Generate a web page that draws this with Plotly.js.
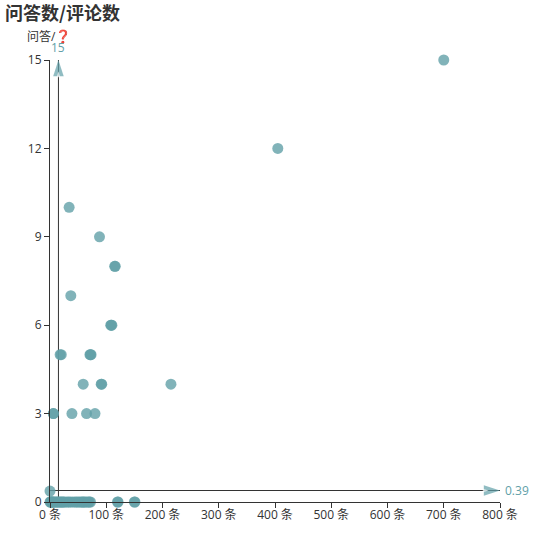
<!DOCTYPE html>
<html><head><meta charset="utf-8"><script src="https://cdn.plot.ly/plotly-3.0.1.min.js"></script>
<style>html,body{margin:0;padding:0;background:#fff}</style></head><body><div id="c" style="width:538px;height:538px"></div>
<script>
const answerCounts = [15,12,10,9,8,8,7,6,6,6,5,5,5,5,5,4,4,4,4,3,3,3,3,3,0.37,
 0,0,0,0,0,0,0,0,0,0,0,0,0,0,0,0,0,0,0,0,0,0,0,0,0,0,0,0,0,0,0,0,0,0,0,0,0,0];
const commentCounts = [700,405,34,88,115,116,37,108,109,110,18,20,71,72,73,59,91,92,215,6,39,65,80,6,0,
 0,1,2,3,4,5,6,8,10,12,14,16,18,20,22,24,26,30,33,36,40,44,47,50,53,56,58,60,62,65,68,70,72,120,121,150,151];
const meanComments = 15;
const meanAnswers = 0.39;
const xTicks = [0,100,200,300,400,500,600,700,800];
const yTicks = [0,3,6,9,12,15];
const teal = '#61a0a8', ink = '#333';
const font = 'Open Sans, Noto Sans CJK SC, sans-serif';
const arrowMarker = (angle) => ({symbol:['circle','arrow'],angle:[0,angle],size:[0,17],color:teal,line:{width:0}});
const notchMarker = (angle) => ({symbol:['circle','arrow'],angle:[0,angle],size:[0,6],standoff:[0,11.5],color:'#fff',line:{width:0}});
Plotly.newPlot('c',[
 {type:'scatter',mode:'lines+markers',x:[meanComments,meanComments],y:[0,15],cliponaxis:false,hoverinfo:'skip',
  line:{color:ink,width:1},marker:arrowMarker(0)},
 {type:'scatter',mode:'lines+markers',x:[0,800],y:[meanAnswers,meanAnswers],cliponaxis:false,hoverinfo:'skip',
  line:{color:ink,width:1},marker:arrowMarker(90)},
 {type:'scatter',mode:'markers',x:[meanComments,meanComments],y:[0,15],cliponaxis:false,hoverinfo:'skip',marker:notchMarker(0)},
 {type:'scatter',mode:'markers',x:[0,800],y:[meanAnswers,meanAnswers],cliponaxis:false,hoverinfo:'skip',marker:notchMarker(90)},
 {type:'scatter',mode:'markers',x:commentCounts,y:answerCounts,cliponaxis:false,
  marker:{size:11,color:teal,opacity:0.8,line:{width:0}},hoverinfo:'x+y'}
],{
 width:538,height:538,showlegend:false,paper_bgcolor:'#fff',plot_bgcolor:'#fff',
 margin:{l:50,r:38,t:60,b:36},
 title:{text:'<b>问答数/评论数</b>',x:5/538,xanchor:'left',y:1-14/538,yanchor:'middle',font:{size:18,color:ink,family:'Noto Sans CJK SC, sans-serif'}},
 xaxis:{range:[0,800],tickvals:xTicks,ticktext:xTicks.map(v=>v+' 条'),ticks:'outside',ticklen:5,tickcolor:ink,ticklabelstandoff:-3,
   showgrid:false,zeroline:false,showline:true,linecolor:ink,linewidth:1,tickfont:{size:12,color:ink,family:font}},
 yaxis:{range:[0,15],tickvals:yTicks,ticks:'outside',ticklen:5,tickcolor:ink,
   showgrid:false,zeroline:false,showline:true,linecolor:ink,linewidth:1,tickfont:{size:12,color:ink,family:font}},
 annotations:[
  {xref:'paper',yref:'paper',x:0,y:1,xshift:-1,yshift:24,text:'问答/<span style="font-size:13px">❓</span>',showarrow:false,xanchor:'center',yanchor:'middle',font:{size:12,color:ink,family:font}},
  {xref:'x',yref:'y',x:meanComments,y:15,yshift:13,text:'15',showarrow:false,xanchor:'center',yanchor:'middle',font:{size:12,color:teal,family:font}},
  {xref:'x',yref:'y',x:800,y:meanAnswers,xshift:3,text:'0.39',showarrow:false,xanchor:'left',yanchor:'middle',font:{size:12,color:teal,family:font}}
 ]
},{displayModeBar:false});
</script></body></html>
